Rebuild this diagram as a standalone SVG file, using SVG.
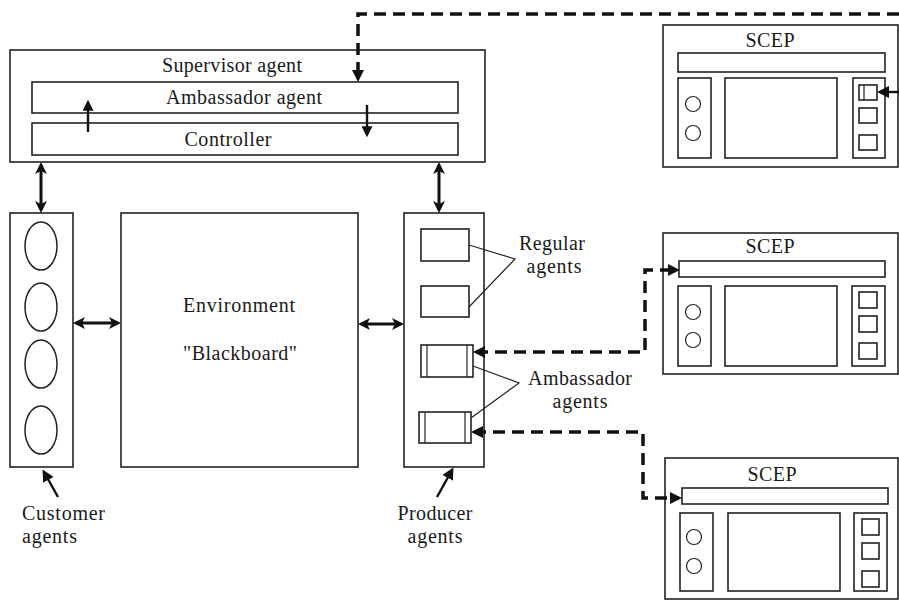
<svg xmlns="http://www.w3.org/2000/svg" width="899" height="601" viewBox="0 0 899 601">
<style>
  .box{fill:#fff;stroke:#222;stroke-width:1.6}
  .thin{fill:none;stroke:#222;stroke-width:1.2}
  .ell{fill:none;stroke:#222;stroke-width:1.5}
  .txt{font-family:"Liberation Serif","Times New Roman",serif;font-size:20px;fill:#1a1a1a}
  .mid{text-anchor:middle}
  .dbl{fill:none;stroke:#111;stroke-width:3}
  .sm{fill:none;stroke:#111;stroke-width:2.4}
  .dash{fill:none;stroke:#111;stroke-width:3.5;stroke-dasharray:12 7}
</style>
<defs>
  <marker id="big" viewBox="0 0 12 12" refX="9" refY="6" markerWidth="12" markerHeight="12" markerUnits="userSpaceOnUse" orient="auto-start-reverse">
    <path d="M0,0 L12,6 L0,12 L3,6 z" fill="#111"/>
  </marker>
  <marker id="small" viewBox="0 0 10 10" refX="8" refY="5" markerWidth="11" markerHeight="11" markerUnits="userSpaceOnUse" orient="auto-start-reverse">
    <path d="M0,0 L10,5 L0,10 z" fill="#111"/>
  </marker>
  <marker id="dh" viewBox="0 0 12 12" refX="9" refY="6" markerWidth="12" markerHeight="12" markerUnits="userSpaceOnUse" orient="auto-start-reverse">
    <path d="M0,0 L12,6 L0,12 z" fill="#111"/>
  </marker>
</defs>

<g id="supervisor">
  <rect class="box" x="10" y="50" width="475" height="112"/>
  <text class="txt mid" x="232" y="72" textLength="140">Supervisor agent</text>
  <rect class="box" x="32" y="82" width="426" height="31"/>
  <text class="txt mid" x="244" y="104" textLength="156">Ambassador agent</text>
  <rect class="box" x="32" y="123" width="426" height="32"/>
  <text class="txt mid" x="228" y="146" textLength="87">Controller</text>
  <line class="sm" x1="88" y1="132" x2="88" y2="102" marker-end="url(#small)"/>
  <line class="sm" x1="367" y1="105" x2="367" y2="135" marker-end="url(#small)"/>
</g>

<g id="customer">
  <rect class="box" x="10" y="213" width="63" height="254"/>
  <ellipse class="ell" cx="41" cy="246" rx="16" ry="24"/>
  <ellipse class="ell" cx="41" cy="307" rx="16" ry="24"/>
  <ellipse class="ell" cx="41" cy="364" rx="16" ry="24"/>
  <ellipse class="ell" cx="41" cy="430" rx="16" ry="24"/>
  <text class="txt" x="22" y="520" textLength="83">Customer</text>
  <text class="txt" x="22" y="543" textLength="55">agents</text>
</g>

<g id="environment">
  <rect class="box" x="121" y="213" width="237" height="254"/>
  <text class="txt mid" x="239" y="312" textLength="112">Environment</text>
  <text class="txt mid" x="240" y="360" textLength="114">"Blackboard"</text>
</g>

<g id="producer">
  <rect class="box" x="404" y="213" width="80" height="254"/>
  <rect class="box" x="421" y="229" width="48" height="32"/>
  <rect class="box" x="421" y="286" width="48" height="31"/>
  <rect class="box" x="421" y="345" width="52" height="32"/>
  <line class="thin" x1="427" y1="345" x2="427" y2="377"/>
  <line class="thin" x1="467" y1="345" x2="467" y2="377"/>
  <rect class="box" x="419" y="412" width="52" height="31"/>
  <line class="thin" x1="425" y1="412" x2="425" y2="443"/>
  <line class="thin" x1="465" y1="412" x2="465" y2="443"/>
  <text class="txt mid" x="435" y="520" textLength="75">Producer</text>
  <text class="txt mid" x="435" y="543" textLength="55">agents</text>
</g>

<g id="labels">
  <polyline class="thin" points="469,245 515,259 469,307"/>
  <text class="txt mid" x="552" y="250" textLength="66">Regular</text>
  <text class="txt mid" x="554" y="273" textLength="55">agents</text>
  <polyline class="thin" points="473,366 519,383 471,418"/>
  <text class="txt mid" x="580" y="385" textLength="104">Ambassador</text>
  <text class="txt mid" x="580" y="408" textLength="55">agents</text>
</g>

<g id="scep1">
  <rect class="box" x="663" y="25" width="235" height="142"/>
  <text class="txt mid" x="770" y="47" textLength="49">SCEP</text>
  <rect class="box" x="678" y="53" width="207" height="19"/>
  <rect class="box" x="678" y="78" width="33" height="80"/>
  <rect class="box" x="725" y="78" width="112" height="80"/>
  <rect class="box" x="853" y="78" width="32" height="80"/>
  <circle class="thin" cx="693" cy="104" r="7.5"/>
  <circle class="thin" cx="693" cy="133" r="7.5"/>
  <rect class="box" x="859" y="85" width="18" height="15"/>
  <line class="thin" x1="864" y1="85" x2="864" y2="100"/>
  <rect class="box" x="859" y="108" width="18" height="15"/>
  <rect class="box" x="859" y="135" width="18" height="15"/>
</g>

<g id="scep2">
  <rect class="box" x="663" y="233" width="235" height="141"/>
  <text class="txt mid" x="770" y="253" textLength="49">SCEP</text>
  <rect class="box" x="679" y="261" width="206" height="16"/>
  <rect class="box" x="678" y="286" width="33" height="80"/>
  <rect class="box" x="725" y="286" width="112" height="80"/>
  <rect class="box" x="852" y="286" width="33" height="80"/>
  <circle class="thin" cx="693" cy="312" r="7.5"/>
  <circle class="thin" cx="693" cy="340" r="7.5"/>
  <rect class="box" x="859" y="292" width="18" height="16"/>
  <rect class="box" x="859" y="316" width="18" height="16"/>
  <rect class="box" x="859" y="343" width="18" height="16"/>
</g>

<g id="scep3">
  <rect class="box" x="665" y="458" width="233" height="141"/>
  <text class="txt mid" x="772" y="481" textLength="49">SCEP</text>
  <rect class="box" x="682" y="488" width="206" height="16"/>
  <rect class="box" x="680" y="513" width="33" height="78"/>
  <rect class="box" x="728" y="513" width="112" height="78"/>
  <rect class="box" x="854" y="513" width="33" height="78"/>
  <circle class="thin" cx="694" cy="537" r="7.5"/>
  <circle class="thin" cx="694" cy="566" r="7.5"/>
  <rect class="box" x="862" y="519" width="17" height="16"/>
  <rect class="box" x="862" y="543" width="17" height="16"/>
  <rect class="box" x="862" y="571" width="17" height="16"/>
</g>

<g id="connectors">
  <line class="dbl" x1="41" y1="165" x2="41" y2="210" marker-start="url(#big)" marker-end="url(#big)"/>
  <line class="dbl" x1="439" y1="165" x2="439" y2="210" marker-start="url(#big)" marker-end="url(#big)"/>
  <line class="dbl" x1="76" y1="323" x2="118" y2="323" marker-start="url(#big)" marker-end="url(#big)"/>
  <line class="dbl" x1="361" y1="324" x2="401" y2="324" marker-start="url(#big)" marker-end="url(#big)"/>
  <line class="sm" x1="58" y1="497" x2="44" y2="472" marker-end="url(#dh)"/>
  <line class="sm" x1="437" y1="497" x2="452" y2="470" marker-end="url(#dh)"/>
  <path class="dash" d="M899,14 H358 V79" marker-end="url(#dh)"/>
  <path class="dash" d="M476,352 H645 V270 H677" marker-start="url(#dh)" marker-end="url(#dh)"/>
  <path class="dash" d="M474,432 H643 V498 H679" marker-start="url(#dh)" marker-end="url(#dh)"/>
  <line class="sm" x1="899" y1="92" x2="880" y2="92" stroke-width="3" marker-end="url(#dh)"/>
</g>
</svg>
